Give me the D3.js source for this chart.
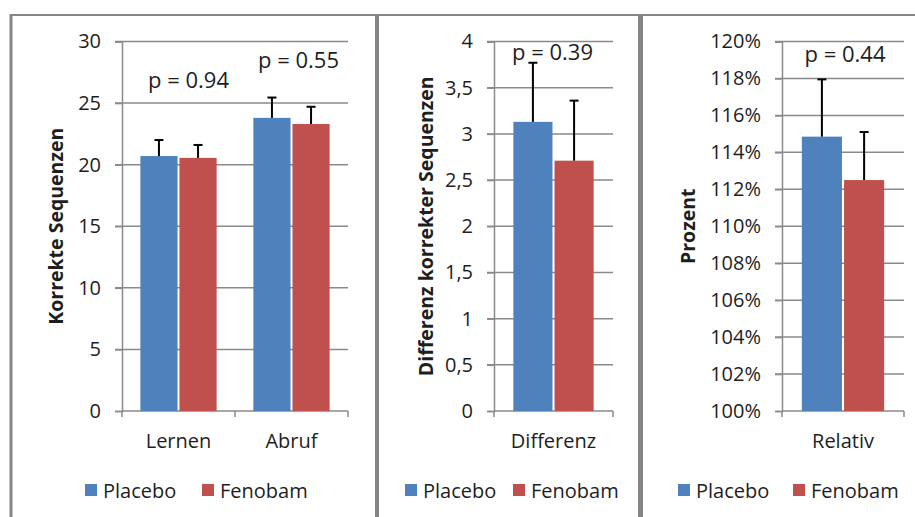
<!DOCTYPE html>
<html>
<head>
<meta charset="utf-8">
<script src="https://cdn.jsdelivr.net/npm/d3@7"></script>
<style>
  html, body { margin: 0; padding: 0; background: #fff; }
  svg { display: block; font-family: "Open Sans", Lato, sans-serif; }
</style>
</head>
<body>
<svg id="chart" width="915" height="517"></svg>
<script>
// Series shared by all three panels
const series = ["Placebo", "Fenobam"];
const seriesColors = ["#4F81BD", "#C0504D"];

// Panel 1: correct sequences per phase
const categories1 = ["Lernen", "Abruf"];
const placebo1 = [20.7, 23.8];
const fenobam1 = [20.55, 23.3];
const placeboErr1 = [1.3, 1.65];
const fenobamErr1 = [1.05, 1.4];
const pLabels1 = ["p = 0.94", "p = 0.55"];
const ticks1 = [0, 5, 10, 15, 20, 25, 30];

// Panel 2: difference in correct sequences
const categories2 = ["Differenz"];
const placebo2 = [3.13];
const fenobam2 = [2.71];
const placeboErr2 = [0.64];
const fenobamErr2 = [0.65];
const pLabels2 = ["p = 0.39"];
const ticks2 = [0, 0.5, 1, 1.5, 2, 2.5, 3, 3.5, 4];

// Panel 3: relative change
const categories3 = ["Relativ"];
const placebo3 = [1.1485];
const fenobam3 = [1.125];
const placeboErr3 = [0.031];
const fenobamErr3 = [0.026];
const pLabels3 = ["p = 0.44"];
const ticks3 = [1.00, 1.02, 1.04, 1.06, 1.08, 1.10, 1.12, 1.14, 1.16, 1.18, 1.20];

const deLocale = d3.formatLocale({ decimal: ",", thousands: ".", grouping: [3], currency: ["", " €"] });

const svg = d3.select("#chart");
const GRID = "#8a8a8a";
const TEXT = "#1e1e1e";

// Frame around the three panels
const frame = svg.append("g").attr("stroke", "#858585").attr("fill", "none");
frame.append("line").attr("x1", 10).attr("x2", 915).attr("y1", 15).attr("y2", 15).attr("stroke-width", 2);
frame.append("line").attr("x1", 11).attr("x2", 11).attr("y1", 14).attr("y2", 517).attr("stroke-width", 3);
frame.append("line").attr("x1", 377).attr("x2", 377).attr("y1", 14).attr("y2", 517).attr("stroke-width", 4);
frame.append("line").attr("x1", 640.5).attr("x2", 640.5).attr("y1", 14).attr("y2", 517).attr("stroke-width", 5);

const panels = [
  {
    cats: categories1, vals: [placebo1, fenobam1], errs: [placeboErr1, fenobamErr1],
    pLabels: pLabels1, pOffset: [[10, 88], [7, 68]],
    ticks: ticks1, domain: [0, 30], fmt: d3.format("d"),
    left: 122, right: 348, title: "Korrekte Sequenzen", titleX: 63,
    legendX: 85, legendStep: 117
  },
  {
    cats: categories2, vals: [placebo2, fenobam2], errs: [placeboErr2, fenobamErr2],
    pLabels: pLabels2, pOffset: [[-1, 60]],
    ticks: ticks2, domain: [0, 4], fmt: deLocale.format(",.1~f"),
    left: 494, right: 613, title: "Differenz korrekter Sequenzen", titleX: 433,
    legendX: 405, legendStep: 108
  },
  {
    cats: categories3, vals: [placebo3, fenobam3], errs: [placeboErr3, fenobamErr3],
    pLabels: pLabels3, pOffset: [[2, 62]],
    ticks: ticks3, domain: [1.0, 1.2], fmt: d3.format(".0%"),
    left: 782, right: 904, title: "Prozent", titleX: 695,
    legendX: 678, legendStep: 115
  }
];

const yTop = 41.5, yBottom = 411;

panels.forEach(p => {
  const g = svg.append("g");
  const y = d3.scaleLinear().domain(p.domain).range([yBottom, yTop]);
  const x0 = d3.scaleBand().domain(p.cats).range([p.left, p.right]).paddingInner(0).paddingOuter(0);
  const x1 = d3.scaleBand().domain(series).range([0, x0.bandwidth()]).paddingInner(0.05).paddingOuter(0.47);

  // Horizontal gridlines with short outward ticks
  g.append("g").selectAll("line").data(p.ticks.slice(1)).join("line")
    .attr("x1", p.left - 7).attr("x2", p.right)
    .attr("y1", d => y(d)).attr("y2", d => y(d))
    .attr("stroke", GRID).attr("stroke-width", 1.5);

  // Value axis labels
  const yAxis = d3.axisLeft(y).tickValues(p.ticks).tickFormat(p.fmt).tickSize(7).tickPadding(14);
  const ya = g.append("g").attr("transform", `translate(${p.left},0)`).call(yAxis);
  ya.select(".domain").attr("stroke", GRID).attr("stroke-width", 1.5);
  ya.selectAll(".tick line").attr("stroke", GRID).attr("stroke-width", 1.5);
  ya.selectAll(".tick text").attr("font-size", 20).attr("fill", TEXT).attr("font-family", "'Open Sans', sans-serif");

  // Category axis
  const xa = g.append("g").attr("transform", `translate(0,${yBottom})`);
  xa.append("line").attr("x1", p.left).attr("x2", p.right).attr("stroke", GRID).attr("stroke-width", 1.5);
  const bounds = p.cats.map(c => x0(c)).concat([x0(p.cats[p.cats.length - 1]) + x0.bandwidth()]);
  xa.selectAll("line.tk").data(bounds).join("line").attr("class", "tk")
    .attr("x1", d => d).attr("x2", d => d).attr("y1", 0).attr("y2", 6)
    .attr("stroke", GRID).attr("stroke-width", 1.5);
  xa.selectAll("text").data(p.cats).join("text")
    .attr("x", c => x0(c) + x0.bandwidth() / 2).attr("y", 37)
    .attr("text-anchor", "middle").attr("font-size", 20).attr("fill", TEXT)
    .text(c => c);

  // Bars and upper error bars
  series.forEach((s, si) => {
    const rows = p.cats.map((c, ci) => ({ c, v: p.vals[si][ci], e: p.errs[si][ci] }));
    const sg = g.append("g");
    sg.selectAll("rect").data(rows).join("rect")
      .attr("x", d => x0(d.c) + x1(s)).attr("width", x1.bandwidth())
      .attr("y", d => y(d.v)).attr("height", d => y(p.domain[0]) - y(d.v))
      .attr("fill", seriesColors[si]);
    const eg = sg.selectAll("g.err").data(rows).join("g").attr("class", "err")
      .attr("stroke", "#000").attr("stroke-width", 2);
    eg.append("line")
      .attr("x1", d => x0(d.c) + x1(s) + x1.bandwidth() / 2)
      .attr("x2", d => x0(d.c) + x1(s) + x1.bandwidth() / 2)
      .attr("y1", d => y(d.v)).attr("y2", d => y(d.v + d.e));
    eg.append("line")
      .attr("x1", d => x0(d.c) + x1(s) + x1.bandwidth() / 2 - 4.5)
      .attr("x2", d => x0(d.c) + x1(s) + x1.bandwidth() / 2 + 4.5)
      .attr("y1", d => y(d.v + d.e)).attr("y2", d => y(d.v + d.e));
  });

  // Significance labels
  g.selectAll("text.pval").data(p.pLabels).join("text").attr("class", "pval")
    .attr("x", (t, i) => x0(p.cats[i]) + x0.bandwidth() / 2 + p.pOffset[i][0])
    .attr("y", (t, i) => p.pOffset[i][1])
    .attr("text-anchor", "middle").attr("font-size", 22).attr("fill", TEXT)
    .text(t => t);

  // Axis title
  g.append("text")
    .attr("transform", `translate(${p.titleX},${(yTop + yBottom) / 2}) rotate(-90)`)
    .attr("text-anchor", "middle").attr("font-size", 19.5).attr("font-weight", "bold").attr("fill", TEXT)
    .text(p.title);

  // Legend
  const lg = g.append("g").attr("transform", `translate(${p.legendX},484)`);
  series.forEach((s, si) => {
    const it = lg.append("g").attr("transform", `translate(${si * p.legendStep},0)`);
    it.append("rect").attr("width", 12).attr("height", 12).attr("fill", seriesColors[si]);
    it.append("text").attr("x", 18).attr("y", 14).attr("font-size", 20).attr("fill", TEXT).text(s);
  });
});
</script>
</body>
</html>
